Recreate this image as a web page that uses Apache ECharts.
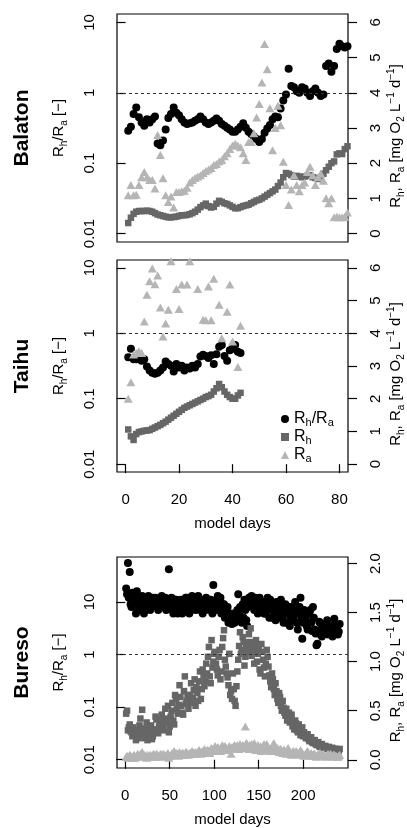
<!DOCTYPE html>
<html>
<head>
<meta charset="utf-8">
<script src="https://cdn.jsdelivr.net/npm/echarts@6/dist/echarts.min.js"></script>
<style>
  html, body { margin: 0; padding: 0; background: #fff; }
  #chart { width: 407px; height: 828px; }
</style>
</head>
<body>
<div id="chart"></div>
<script>
// Balaton, one value per model day starting at day 1
const balatonRatio = [
  0.29, 0.33, 0.50, 0.62, 0.45, 0.38, 0.34, 0.42, 0.38, 0.42,
  0.46, 0.19, 0.18, 0.21, 0.30, 0.44, 0.50, 0.62, 0.52, 0.48,
  0.42, 0.38, 0.36, 0.37, 0.38, 0.40, 0.42, 0.46, 0.42, 0.38,
  0.36, 0.38, 0.40, 0.43, 0.40, 0.36, 0.34, 0.32, 0.30, 0.28,
  0.28, 0.30, 0.33, 0.37, 0.32, 0.28, 0.26, 0.24, 0.22, 0.20,
  0.22, 0.27, 0.31, 0.35, 0.42, 0.46, 0.45, 0.60, 0.78, 0.95,
  2.2, 1.25, 1.2, 1.05, 1.0, 1.2, 1.15, 1.0, 0.9, 1.05,
  1.15, 1.0, 0.9, 0.95, 2.4, 2.6, 2.0, 2.4, 4.2, 5.0,
  4.6, 4.4, 4.6
];
const balatonRh = [
  0.30, 0.45, 0.56, 0.62, 0.64, 0.64, 0.64, 0.65, 0.64, 0.62,
  0.58, 0.54, 0.52, 0.50, 0.48, 0.46, 0.46, 0.47, 0.48, 0.50,
  0.52, 0.52, 0.53, 0.55, 0.58, 0.62, 0.68, 0.75, 0.80, 0.85,
  0.78, 0.74, 0.76, 0.85, 0.93, 0.90, 0.86, 0.84, 0.80, 0.76,
  0.72, 0.72, 0.75, 0.78, 0.80, 0.82, 0.86, 0.90, 0.94, 0.96,
  1.00, 1.05, 1.10, 1.15, 1.20, 1.25, 1.35, 1.45, 1.60, 1.72,
  1.70, 1.66, 1.62, 1.64, 1.62, 1.60, 1.62, 1.64, 1.66, 1.60,
  1.58, 1.55, 1.60, 1.70, 1.80, 1.90, 2.00, 2.05, 2.25, 2.28,
  2.26, 2.40, 2.48
];
const balatonRa = [
  1.09, 1.38, 1.09, 1.10, 1.38, 1.60, 1.75, 1.60, 1.52, 1.52,
  1.28, 2.80, 2.23, 1.57, 1.09, 0.90, 1.05, 0.74, 1.18, 1.18,
  1.20, 1.22, 1.30, 1.45, 1.52, 1.58, 1.62, 1.66, 1.72, 1.78,
  1.82, 1.86, 1.95, 1.98, 2.05, 2.09, 2.20, 2.28, 2.40, 2.50,
  2.55, 2.50, 2.45, 2.28, 2.09, 2.60, 2.60, 2.85, 3.30, 3.68,
  4.29, 5.39, 4.67, 3.56, 2.37, 3.00, 3.63, 3.08, 2.04, 1.38,
  0.81, 1.25, 1.66, 1.38, 1.20, 1.38, 1.45, 1.75, 1.90, 1.66,
  1.38, 1.60, 1.70, 1.50, 1.00, 0.86, 1.00, 0.46, 0.48, 0.46,
  0.46, 0.48, 0.60
];

// Taihu, one value per model day starting at day 1
const taihuRatio = [
  0.43, 0.58, 0.40, 0.40, 0.41, 0.38, 0.40, 0.31, 0.27, 0.25,
  0.24, 0.25, 0.27, 0.30, 0.37, 0.34, 0.32, 0.26, 0.34, 0.30,
  0.32, 0.27, 0.30, 0.29, 0.32, 0.30, 0.34, 0.44, 0.47, 0.45,
  0.42, 0.46, 0.34, 0.48, 0.62, 0.66, 0.45, 0.38, 0.55, 0.58,
  0.66, 0.52, 0.50
];
const taihuRh = [
  1.06, 0.85, 0.74, 0.92, 0.98, 1.00, 1.02, 1.03, 1.04, 1.08,
  1.12, 1.16, 1.20, 1.25, 1.30, 1.36, 1.42, 1.48, 1.54, 1.60,
  1.66, 1.72, 1.76, 1.80, 1.84, 1.88, 1.92, 1.96, 2.00, 2.05,
  2.08, 2.12, 2.22, 2.32, 2.45, 2.35, 2.22, 2.12, 2.05, 2.00,
  2.00, 2.10, 2.18
];
const taihuRa = [
  2.0, 2.5, 3.35, 3.40, 3.45, 3.40, 4.36, 5.18, 5.59, 5.98,
  5.50, 5.77, 4.79, 3.90, 4.30, 4.72, 6.2, 6.8, 5.35, 4.74,
  5.49, 6.9, 5.49, 6.2, 7.0, 6.6, 5.35, 6.8, 4.41, 4.40,
  5.43, 4.40, 5.67, 6.7, 4.87, 3.85, 6.5, 4.66, 5.49, 3.75,
  6.6, 2.97, 4.23
];

// Bureso, one value per model day starting at day 1 (20 per row)
const buresoRatio = [
  18, 14, 55, 12, 37, 9, 8, 15, 14, 11, 10, 6, 16, 9, 7, 12, 11, 8, 13, 10,
  6, 11, 12, 8, 9, 13, 10, 7, 8, 11, 12, 9, 9, 12, 11, 8, 7, 10, 10, 12,
  13, 8, 9, 11, 12, 7, 8, 10, 42, 9, 10, 12, 7, 6, 9, 11, 11, 8, 6, 7,
  8, 11, 10, 6, 7, 9, 9, 12, 12, 10, 8, 6, 10, 8, 13, 11, 9, 10, 7, 9,
  11, 13, 8, 7, 10, 11, 6, 8, 9, 7, 12, 10, 8, 9, 7, 11, 10, 6, 21, 8,
  9, 7, 11, 13, 8, 10, 12, 6, 7, 9, 9, 5, 6, 7, 8, 4, 5, 6, 4.5, 3.8,
  5, 6, 4, 4.5, 5.5, 7, 14, 6, 8, 5, 4, 9, 5, 11, 7, 4.5, 3.5, 8, 12, 10,
  9, 13, 11, 8, 7, 12, 10, 9, 6, 11, 12, 7, 8, 10, 10, 6, 6, 8, 9, 12,
  7, 5, 11, 9, 5, 7, 8, 6, 4.5, 10, 6, 8, 9, 5, 11, 7, 5, 4, 7, 9,
  4, 6, 6, 8, 3.5, 5, 8, 4.5, 5, 7, 10, 6, 4, 3, 6, 8, 12, 5, 2.0, 4,
  7, 5.5, 5, 3.5, 3, 4, 6, 7, 4, 2.8, 8, 5, 3, 2.5, 1.5, 1.6, 2.5, 4.2, 4, 3,
  2.2, 2.6, 3.5, 3, 2.5, 3.8, 4.5, 2.4, 2.8, 3.3, 3.2, 2.6, 2.2, 3.6, 4.8, 2.9, 3, 3.4, 2.4, 2.7,
  3.8
];
const buresoRh = [
  0.47, 0.50, 0.30, 0.33, 0.36, 0.29, 0.28, 0.24, 0.33, 0.30, 0.25, 0.20, 0.30, 0.27, 0.22, 0.35, 0.42, 0.26, 0.51, 0.31,
  0.26, 0.22, 0.32, 0.38, 0.20, 0.25, 0.28, 0.33, 0.35, 0.21, 0.24, 0.30, 0.31, 0.44, 0.41, 0.29, 0.27, 0.34, 0.36, 0.40,
  0.46, 0.33, 0.30, 0.37, 0.52, 0.42, 0.38, 0.55, 0.28, 0.34, 0.44, 0.50, 0.58, 0.40, 0.36, 0.66, 0.62, 0.52, 0.47, 0.56,
  0.76, 0.64, 0.55, 0.48, 0.46, 0.70, 0.85, 0.57, 0.60, 0.66, 0.52, 0.62, 0.66, 0.78, 0.58, 0.63, 0.71, 0.82, 0.55, 0.74,
  0.68, 0.60, 0.80, 0.90, 0.62, 0.72, 0.92, 0.86, 0.75, 0.80, 0.98, 0.88, 1.05, 1.15, 0.85, 0.78, 1.22, 0.94, 1.00, 1.08,
  1.10, 0.98, 0.92, 0.86, 1.05, 1.12, 0.82, 0.90, 1.15, 1.24, 1.32, 1.02, 0.95, 0.88, 0.84, 0.76, 1.08, 0.66, 0.70, 0.62,
  0.88, 0.72, 0.60, 0.55, 0.75, 0.90, 1.02, 1.16, 1.30, 1.08, 1.12, 1.25, 1.20, 0.96, 1.05, 1.14, 1.18, 1.10, 1.28, 1.20,
  1.34, 1.06, 1.15, 1.10, 0.98, 1.16, 1.22, 1.00, 1.08, 1.14, 0.92, 0.88, 1.18, 1.10, 1.02, 0.94, 0.85, 0.98, 1.12, 1.05,
  0.95, 0.86, 0.80, 0.74, 0.88, 0.82, 0.72, 0.66, 0.78, 0.70, 0.62, 0.58, 0.68, 0.64, 0.55, 0.50, 0.60, 0.53, 0.48, 0.45,
  0.52, 0.40, 0.44, 0.48, 0.38, 0.42, 0.46, 0.34, 0.35, 0.31, 0.40, 0.37, 0.30, 0.28, 0.36, 0.32, 0.25, 0.27, 0.33, 0.24,
  0.28, 0.25, 0.22, 0.24, 0.26, 0.21, 0.19, 0.22, 0.23, 0.18, 0.17, 0.20, 0.20, 0.16, 0.15, 0.17, 0.18, 0.14, 0.13, 0.15,
  0.16, 0.13, 0.12, 0.14, 0.14, 0.12, 0.11, 0.13, 0.13, 0.11, 0.10, 0.12, 0.12, 0.10, 0.09, 0.11, 0.11, 0.10, 0.10, 0.09,
  0.11
];
const buresoRa = [
  0.03, 0.04, 0.02, 0.03, 0.05, 0.04, 0.03, 0.02, 0.04, 0.05, 0.02, 0.03, 0.04, 0.06, 0.03, 0.04, 0.06, 0.05, 0.08, 0.04,
  0.04, 0.05, 0.03, 0.02, 0.05, 0.03, 0.04, 0.05, 0.03, 0.04, 0.05, 0.06, 0.04, 0.03, 0.06, 0.05, 0.03, 0.04, 0.05, 0.06,
  0.04, 0.05, 0.06, 0.04, 0.03, 0.05, 0.05, 0.07, 0.02, 0.04, 0.04, 0.06, 0.07, 0.05, 0.09, 0.06, 0.05, 0.07, 0.06, 0.04,
  0.08, 0.06, 0.05, 0.07, 0.07, 0.05, 0.06, 0.08, 0.08, 0.06, 0.05, 0.07, 0.07, 0.06, 0.09, 0.08, 0.06, 0.07, 0.08, 0.06,
  0.07, 0.09, 0.10, 0.08, 0.06, 0.08, 0.09, 0.07, 0.11, 0.09, 0.08, 0.10, 0.10, 0.08, 0.07, 0.11, 0.12, 0.10, 0.09, 0.12,
  0.14, 0.11, 0.10, 0.13, 0.12, 0.10, 0.09, 0.12, 0.15, 0.13, 0.11, 0.14, 0.13, 0.11, 0.10, 0.12, 0.14, 0.12, 0.06, 0.13,
  0.12, 0.14, 0.15, 0.12, 0.11, 0.15, 0.13, 0.11, 0.16, 0.14, 0.12, 0.15, 0.14, 0.12, 0.34, 0.17, 0.16, 0.13, 0.11, 0.15,
  0.14, 0.16, 0.12, 0.14, 0.17, 0.13, 0.10, 0.12, 0.15, 0.13, 0.12, 0.14, 0.09, 0.12, 0.14, 0.16, 0.11, 0.13, 0.16, 0.14,
  0.12, 0.10, 0.09, 0.12, 0.13, 0.15, 0.17, 0.13, 0.10, 0.09, 0.12, 0.10, 0.08, 0.11, 0.11, 0.09, 0.07, 0.10, 0.10, 0.08,
  0.06, 0.09, 0.12, 0.10, 0.08, 0.06, 0.05, 0.08, 0.09, 0.07, 0.06, 0.09, 0.08, 0.06, 0.05, 0.07, 0.10, 0.08, 0.07, 0.05,
  0.04, 0.05, 0.06, 0.08, 0.09, 0.06, 0.05, 0.04, 0.07, 0.05, 0.04, 0.06, 0.06, 0.04, 0.03, 0.05, 0.05, 0.06, 0.07, 0.05,
  0.04, 0.05, 0.06, 0.04, 0.03, 0.04, 0.05, 0.06, 0.04, 0.05, 0.06, 0.04, 0.03, 0.05, 0.05, 0.04, 0.04, 0.03, 0.03, 0.04,
  0.05
];

// tick labels
const ratioTicks = [0.01, 0.1, 1, 10];
const rateTicksShort = [0, 1, 2, 3, 4, 5, 6];
const rateTicksBureso = [0, 0.5, 1, 1.5, 2];
const dayTicksShort = [0, 20, 40, 60, 80];
const dayTicksBureso = [0, 50, 100, 150, 200];
const lakes = ['Balaton', 'Taihu', 'Bureso'];

const FONT = '"Liberation Sans", Arial, Helvetica, sans-serif';
const richFor = size => ({
  s: {fontSize: size, lineHeight: size, verticalAlign: 'bottom', fontFamily: FONT, color: '#000'},
  p: {fontSize: size, lineHeight: size, verticalAlign: 'top', fontFamily: FONT, color: '#000'}
});
const legendText = {'Rh/Ra': 'R{s|h}/R{s|a}', 'Rh': 'R{s|h}', 'Ra': 'R{s|a}'};

// plot regions (pixels) and padded axis ranges
const panels = [
  {top: 14, height: 228, x: [-3.2, 83.2], logY: [-2.12, 1.12], rate: [-0.24, 6.24], digits: 0,
    days: null, rates: rateTicksShort, ratio: balatonRatio, rh: balatonRh, ra: balatonRa},
  {top: 260, height: 212, x: [-3.2, 83.2], logY: [-2.12, 1.12], rate: [-0.24, 6.24], digits: 0,
    days: dayTicksShort, rates: rateTicksShort, ratio: taihuRatio, rh: taihuRh, ra: taihuRa},
  {top: 557, height: 211, x: [-9.3, 250.4], logY: [-2.157, 1.854], rate: [-0.084, 2.067], digits: 1,
    days: dayTicksBureso, rates: rateTicksBureso, ratio: buresoRatio, rh: buresoRh, ra: buresoRa}
];

const pts = vals => vals.map((v, i) => [i + 1, v]);
const tick = {show: true, length: 9, lineStyle: {color: '#000', width: 1.2}};
const label = {color: '#000', fontSize: 15, fontFamily: FONT, margin: 20};

const grid = [], xAxis = [], yAxis = [], series = [], graphic = [];

panels.forEach((p, i) => {
  grid.push({left: 117, width: 231, top: p.top, height: p.height, show: true,
    borderColor: '#000', borderWidth: 1.2, backgroundColor: 'transparent', outerBoundsMode: 'none'});

  xAxis.push({type: 'value', gridIndex: i, min: p.x[0], max: p.x[1], show: !!p.days,
    axisLine: {show: false}, splitLine: {show: false},
    axisTick: Object.assign({customValues: p.days || []}, tick),
    axisLabel: Object.assign({customValues: p.days || []}, label),
    name: 'model days', nameLocation: 'middle', nameGap: 44,
    nameTextStyle: {fontSize: 15, fontFamily: FONT, color: '#000'}});

  yAxis.push({type: 'log', logBase: 10, gridIndex: i, position: 'left',
    min: Math.pow(10, p.logY[0]), max: Math.pow(10, p.logY[1]),
    axisLine: {show: false}, splitLine: {show: false},
    axisTick: Object.assign({customValues: ratioTicks}, tick),
    axisLabel: Object.assign({customValues: ratioTicks, rotate: 90,
      formatter: v => String(Number(v.toPrecision(2)))}, label)});

  yAxis.push({type: 'value', gridIndex: i, position: 'right',
    min: p.rate[0], max: p.rate[1],
    axisLine: {show: false}, splitLine: {show: false},
    axisTick: Object.assign({customValues: p.rates}, tick),
    axisLabel: Object.assign({customValues: p.rates, rotate: 90,
      formatter: v => v.toFixed(p.digits)}, label)});

  series.push({type: 'scatter', name: 'Rh/Ra', xAxisIndex: i, yAxisIndex: 2 * i,
    data: pts(p.ratio), symbol: 'circle', symbolSize: 8,
    itemStyle: {color: '#000', opacity: 1}, emphasis: {disabled: true},
    markLine: {silent: true, symbol: 'none', label: {show: false},
      lineStyle: {color: '#333', width: 1.2, type: [3, 3]}, data: [{yAxis: 1}]}});
  series.push({type: 'scatter', name: 'Rh', xAxisIndex: i, yAxisIndex: 2 * i + 1,
    data: pts(p.rh), symbol: 'rect', symbolSize: 6.5,
    itemStyle: {color: '#666666', opacity: 1}, emphasis: {disabled: true}});
  series.push({type: 'scatter', name: 'Ra', xAxisIndex: i, yAxisIndex: 2 * i + 1,
    data: pts(p.ra), symbol: 'triangle', symbolSize: [9, 8],
    itemStyle: {color: '#b5b5b5', opacity: 1}, emphasis: {disabled: true}});

  const mid = p.top + p.height / 2;
  const vText = (x, y, text, size, weight) => ({
    type: 'text', x: x, y: y, rotation: Math.PI / 2, silent: true,
    style: {text: text, fontSize: size, fontWeight: weight, fontFamily: FONT, lineHeight: 20,
      rich: richFor(10), fill: '#000', align: 'center', verticalAlign: 'middle'}
  });
  graphic.push(vText(22, mid, lakes[i], 21, 'bold'));
  graphic.push(vText(59, mid, 'R{s|h}/R{s|a} [\u2212]', 15, 'normal'));
  graphic.push(vText(396, mid + 8, 'R{s|h}, R{s|a} [mg O{s|2} L{p|\u22121} d{p|\u22121}]', 15, 'normal'));
});

const chart = echarts.init(document.getElementById('chart'));
chart.setOption({
  animation: false,
  backgroundColor: '#fff',
  grid, xAxis, yAxis, series, graphic,
  legend: {
    data: [{name: 'Rh/Ra', icon: 'circle'}, {name: 'Rh', icon: 'rect'}, {name: 'Ra', icon: 'triangle'}],
    orient: 'vertical', left: 276, top: 405, itemWidth: 8, itemHeight: 8, itemGap: 0,
    selectedMode: false, formatter: n => legendText[n],
    itemStyle: {opacity: 1},
    textStyle: {fontSize: 16, fontFamily: FONT, color: '#000', lineHeight: 18, rich: richFor(11)}
  }
});
</script>
</body>
</html>
